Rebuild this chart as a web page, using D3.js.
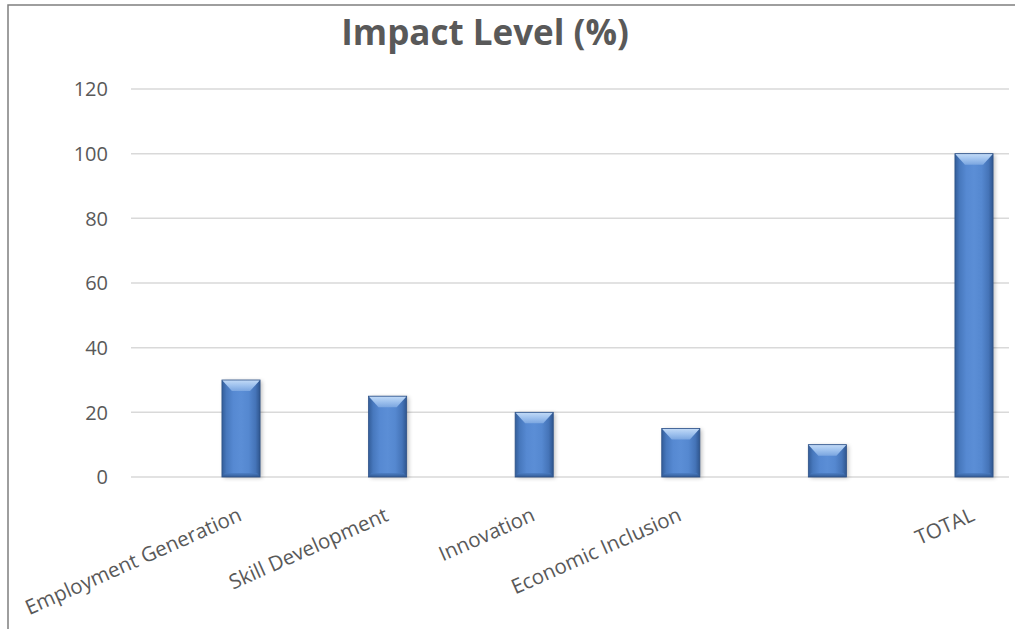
<!DOCTYPE html>
<html><head><meta charset="utf-8">
<script src="https://cdn.jsdelivr.net/npm/d3@7"></script>
<style>html,body{margin:0;padding:0;background:#fff;}svg{display:block;}</style>
</head><body>
<svg id="chart" width="1015" height="629"></svg>
<script>
const title = "Impact Level (%)";
const categories = ["Employment Generation","Skill Development","Innovation","Economic Inclusion","","TOTAL"];
const values = [30,25,20,15,10,100];
const yTicks = [0,20,40,60,80,100,120];

const svg = d3.select("#chart");
const font = "'Open Sans', 'Segoe UI', sans-serif";

// frame
svg.append("path").attr("d","M8,629 L8,5 L1015,5").attr("fill","none").attr("stroke","#7f7f7f").attr("stroke-width",1.5);

const gridX0 = 131, gridX1 = 1009;
const y = d3.scaleLinear().domain([0,120]).range([477,89]);
const idx = d3.range(categories.length);
const x = d3.scaleBand().domain(idx).range([167.7,1047.3]).paddingInner(0.74).paddingOuter(0.37);

const defs = svg.append("defs");
const gH = defs.append("linearGradient").attr("id","barH").attr("x1","0").attr("x2","1").attr("y1","0").attr("y2","0");
[[0,"#335d99"],[0.12,"#4778bd"],[0.3,"#5689d2"],[0.5,"#5b8ed6"],[0.7,"#5588d0"],[0.88,"#4574b8"],[1,"#2f568f"]].forEach(s=>gH.append("stop").attr("offset",s[0]).attr("stop-color",s[1]));
const gT = defs.append("linearGradient").attr("id","barT").attr("x1","0").attr("x2","0").attr("y1","0").attr("y2","1");
[[0,"#c3dbf7"],[0.5,"#9fc2ee"],[1,"#7ba6e0"]].forEach(s=>gT.append("stop").attr("offset",s[0]).attr("stop-color",s[1]));
const gB = defs.append("linearGradient").attr("id","barB").attr("x1","0").attr("x2","0").attr("y1","0").attr("y2","1");
[[0,"#4a7cc2"],[1,"#2c5288"]].forEach(s=>gB.append("stop").attr("offset",s[0]).attr("stop-color",s[1]));
const flt = defs.append("filter").attr("id","shadow").attr("x","-30%").attr("y","-10%").attr("width","160%").attr("height","130%");
flt.append("feGaussianBlur").attr("stdDeviation",2);

// gridlines
svg.append("g").selectAll("line").data(yTicks).join("line")
  .attr("x1",gridX0).attr("x2",gridX1)
  .attr("y1",d=>y(d)).attr("y2",d=>y(d))
  .attr("stroke","#d9d9d9").attr("stroke-width",1.5);

// y labels
svg.append("g").selectAll("text").data(yTicks).join("text")
  .attr("x",108).attr("y",d=>y(d)).attr("dy","0.36em")
  .attr("text-anchor","end").attr("font-family",font).attr("font-size",20)
  .attr("fill","#595959").text(d=>d);

// bars
const bw = x.bandwidth();
const bars = svg.append("g").selectAll("g").data(idx).join("g");
bars.append("rect")
  .attr("x",i=>x(i)+2).attr("y",i=>y(values[i])+1)
  .attr("width",bw).attr("height",i=>y(0)-y(values[i]))
  .attr("fill","#000").attr("opacity",0.25).attr("filter","url(#shadow)");
bars.append("rect")
  .attr("x",i=>x(i)).attr("y",i=>y(values[i]))
  .attr("width",bw).attr("height",i=>y(0)-y(values[i]))
  .attr("fill","url(#barH)");
bars.append("path")
  .attr("d",i=>{const x0=x(i),x1=x(i)+bw,t=y(values[i]),b=y(0);const bh=Math.min(4,(b-t)/3);return `M${x0},${b} L${x1},${b} L${x1-3},${b-bh} L${x0+3},${b-bh} Z`;})
  .attr("fill","url(#barB)").attr("opacity",0.8);
bars.append("path")
  .attr("d",i=>{const x0=x(i),x1=x(i)+bw,t=y(values[i]);const bh=Math.min(11,(y(0)-t)/2);return `M${x0},${t} L${x1},${t} L${x1-10},${t+bh} L${x0+10},${t+bh} Z`;})
  .attr("fill","url(#barT)");
bars.append("rect")
  .attr("x",i=>x(i)).attr("y",i=>y(values[i]))
  .attr("width",bw).attr("height",i=>y(0)-y(values[i]))
  .attr("fill","none").attr("stroke","#2e5288").attr("stroke-width",0.8);

// x labels
svg.append("g").selectAll("text").data(idx).join("text")
  .attr("transform",i=>`translate(${x(i)+bw/2+2},520) rotate(-24)`)
  .attr("text-anchor","end").attr("font-family",font).attr("font-size",20.5)
  .attr("fill","#595959").text(i=>categories[i]);

// title
svg.append("text").attr("x",485).attr("y",45).attr("text-anchor","middle")
  .attr("font-family",font).attr("font-size",35).attr("font-weight","bold")
  .attr("fill","#595959").text(title);
</script>
</body></html>
